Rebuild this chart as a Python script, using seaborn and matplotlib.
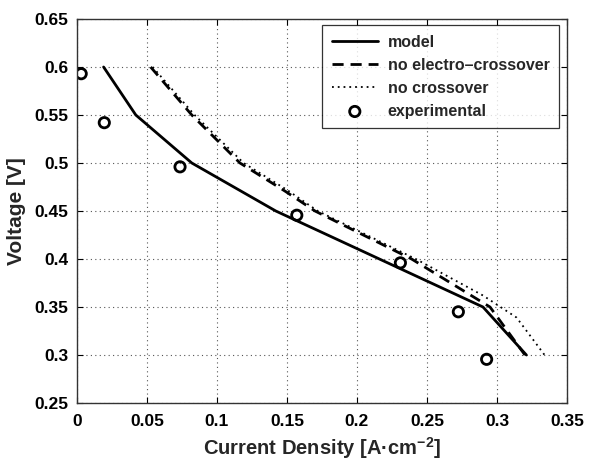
import matplotlib
matplotlib.use("Agg")
import matplotlib.pyplot as plt
import seaborn as sns
import pandas as pd

# --- data ---
model_x = [0.019, 0.042, 0.082, 0.142, 0.216, 0.290, 0.321]
model_v = [0.60, 0.55, 0.50, 0.45, 0.40, 0.35, 0.30]

noelec_x = [0.0526, 0.082, 0.1164, 0.1486, 0.170, 0.239, 0.295, 0.320]
noelec_v = [0.60, 0.55, 0.50, 0.4707, 0.45, 0.40, 0.35, 0.30]

nocross_x = [0.054, 0.084, 0.119, 0.150, 0.172, 0.242, 0.290, 0.314, 0.334]
nocross_v = [0.60, 0.55, 0.50, 0.472, 0.45, 0.40, 0.362, 0.339, 0.30]

exp_x = [0.003, 0.0195, 0.0736, 0.157, 0.231, 0.2724, 0.2926]
exp_v = [0.593, 0.542, 0.496, 0.4456, 0.396, 0.345, 0.2955]

xticks = [0, 0.05, 0.1, 0.15, 0.2, 0.25, 0.3, 0.35]
xticklabels = ["0", "0.05", "0.1", "0.15", "0.2", "0.25", "0.3", "0.35"]
yticks = [0.25, 0.3, 0.35, 0.4, 0.45, 0.5, 0.55, 0.6, 0.65]
yticklabels = ["0.25", "0.3", "0.35", "0.4", "0.45", "0.5", "0.55", "0.6", "0.65"]

sns.set_style("ticks")
plt.rcParams["font.family"] = ["Liberation Sans", "DejaVu Sans"]
plt.rcParams["font.weight"] = "bold"
plt.rcParams["mathtext.fontset"] = "custom"
plt.rcParams["mathtext.rm"] = "Liberation Sans:bold"
plt.rcParams["mathtext.bf"] = "Liberation Sans:bold"
plt.rcParams["mathtext.default"] = "bf"

fig = plt.figure(figsize=(5.9, 4.61), dpi=100)
ax = fig.add_axes([0.1305, 0.1258, 0.961 - 0.1305, 0.9588 - 0.1258])

df_m = pd.DataFrame({"x": model_x, "v": model_v})
df_e = pd.DataFrame({"x": noelec_x, "v": noelec_v})
df_c = pd.DataFrame({"x": nocross_x, "v": nocross_v})
df_x = pd.DataFrame({"x": exp_x, "v": exp_v})

sns.lineplot(data=df_m, x="x", y="v", sort=False, ax=ax, color="black",
             linewidth=2.0, linestyle="-", label="model")
sns.lineplot(data=df_e, x="x", y="v", sort=False, ax=ax, color="black",
             linewidth=2.0, dashes=False, label="no electro\u2013crossover")
ax.lines[-1].set_linestyle((0, (4, 2.5)))
sns.lineplot(data=df_c, x="x", y="v", sort=False, ax=ax, color="black",
             linewidth=1.3, label="no crossover")
ax.lines[-1].set_linestyle((0, (1, 2.2)))
sns.scatterplot(data=df_x, x="x", y="v", ax=ax, marker="o", s=55,
                facecolor="none", edgecolor="black", linewidth=2.0,
                label="experimental")

ax.set_xlim(0, 0.35)
ax.set_ylim(0.25, 0.65)
ax.set_xticks(xticks)
ax.set_xticklabels(xticklabels)
ax.set_yticks(yticks)
ax.set_yticklabels(yticklabels)
ax.tick_params(direction="in", top=True, right=True, length=4, width=0.8,
               labelsize=12.5, colors="black")
ax.tick_params(axis="x", pad=8)
ax.tick_params(axis="y", pad=6)
for lab in ax.get_xticklabels() + ax.get_yticklabels():
    lab.set_fontweight("bold")
for s in ax.spines.values():
    s.set_visible(True)
    s.set_linewidth(1.0)
    s.set_color("#333333")
ax.grid(True, linestyle=(0, (1, 3)), color="#555555", linewidth=0.8)

ax.set_xlabel("Current Density [A\u00b7cm$^{\\mathbf{-2}}$]", fontsize=14.5,
              fontweight="bold", labelpad=4)
ax.set_ylabel("Voltage [V]", fontsize=15, fontweight="bold", labelpad=6)

leg = ax.legend(loc="upper right", bbox_to_anchor=(0.9837, 0.984),
                borderaxespad=0.0,
                prop={"weight": "bold", "size": 11.5}, frameon=True,
                fancybox=False, edgecolor="black", handlelength=2.9,
                borderpad=0.6, labelspacing=0.5, handletextpad=0.6)
leg.get_frame().set_linewidth(0.9)

fig.savefig("out.png", dpi=100)
